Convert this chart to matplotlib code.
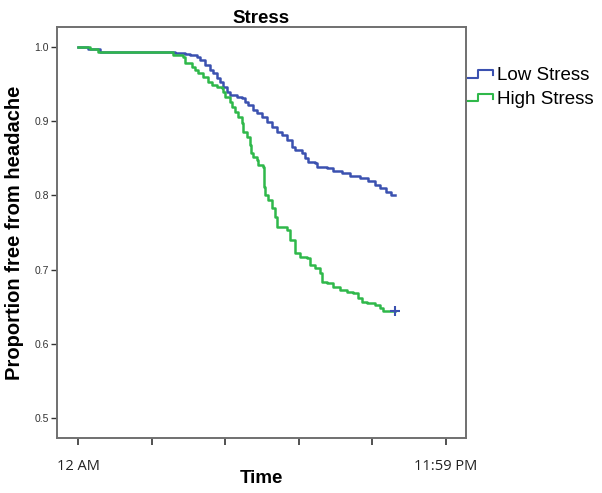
import matplotlib
matplotlib.use("Agg")
import matplotlib.pyplot as plt
from matplotlib.lines import Line2D

# time in minutes after midnight, proportion free from headache
low_t = [0, 39, 86, 380, 419, 438, 466, 477, 497, 517, 528, 544, 556, 567,
         583, 595, 622, 642, 653, 665, 685, 700, 720, 740, 759, 779, 798,
         818, 837, 849, 877, 888, 900, 927, 935, 974, 998, 1033, 1064,
         1103, 1135, 1162, 1182, 1205, 1225, 1240]
low_s = [1.000, 0.997, 0.993, 0.992, 0.991, 0.989, 0.987, 0.982, 0.976,
         0.969, 0.965, 0.958, 0.953, 0.946, 0.939, 0.935, 0.933, 0.931,
         0.926, 0.922, 0.915, 0.911, 0.906, 0.899, 0.892, 0.885, 0.881,
         0.875, 0.865, 0.861, 0.857, 0.850, 0.845, 0.844, 0.838, 0.837,
         0.833, 0.830, 0.826, 0.823, 0.819, 0.814, 0.810, 0.805, 0.800,
         0.800]

high_t = [0, 47, 78, 372, 411, 419, 446, 458, 470, 489, 509, 524, 544, 563,
          567, 575, 595, 603, 614, 626, 642, 646, 661, 673, 677, 685, 700,
          704, 724, 728, 732, 743, 759, 771, 779, 818, 830, 849, 869, 896,
          908, 927, 947, 955, 974, 998, 1025, 1053, 1076, 1096, 1111, 1131,
          1162, 1182, 1193, 1240]
high_s = [1.000, 0.997, 0.993, 0.989, 0.987, 0.978, 0.973, 0.969, 0.965,
          0.960, 0.953, 0.949, 0.946, 0.945, 0.939, 0.933, 0.926, 0.919,
          0.912, 0.906, 0.898, 0.885, 0.879, 0.868, 0.857, 0.852, 0.848,
          0.841, 0.838, 0.811, 0.801, 0.794, 0.783, 0.771, 0.757, 0.753,
          0.740, 0.722, 0.717, 0.715, 0.706, 0.702, 0.695, 0.683, 0.682,
          0.677, 0.672, 0.670, 0.668, 0.662, 0.656, 0.655, 0.652, 0.648,
          0.644, 0.644]

x_ticks = [0, 288, 576, 864, 1152, 1439]
x_ticklabels = ["12 AM", "", "", "", "", "11:59 PM"]
y_ticks = [0.5, 0.6, 0.7, 0.8, 0.9, 1.0]

BLUE = "#3b51b0"
GREEN = "#2fb84a"

plt.rcParams["font.family"] = ["Liberation Sans", "DejaVu Sans"]

fig = plt.figure(figsize=(6.02, 4.93), dpi=100)
ax = fig.add_axes([0.0947, 0.1116, 0.6794, 0.8337])

ax.step(low_t, low_s, where="post", color=BLUE, lw=1.8)
ax.step(high_t, high_s, where="post", color=GREEN, lw=1.8)
ax.plot([high_t[-1]], [high_s[-1]], marker="+", color=BLUE,
        markersize=7, mew=1.5, ls="none")

ax.set_xlim(-82, 1518)
ax.set_ylim(0.473, 1.027)
ax.set_xticks(x_ticks)
ax.set_xticklabels(x_ticklabels, fontsize=10.5, color="#222222",
                   family=["Open Sans", "DejaVu Sans"])
ax.set_yticks(y_ticks)
ax.set_yticklabels([f"{v:.1f}" for v in y_ticks], fontsize=7.5, color="#333333")
ax.tick_params(axis="x", length=5, width=1.2, color="#333333", pad=10)
ax.tick_params(axis="y", length=4, width=1.0, color="#333333", pad=2)
for s in ax.spines.values():
    s.set_color("#707070")
    s.set_linewidth(1.4)

ax.set_title("Stress", fontsize=13.5, fontweight="bold", pad=3)
ax.set_xlabel("Time", fontsize=13.5, fontweight="bold", labelpad=-3)
ax.set_ylabel("Proportion free from headache", fontsize=14.5,
              fontweight="bold", labelpad=7)

# legend with step-shaped keys, drawn in figure pixels
W, H = 602.0, 493.0
for label, col, ypx in [("Low Stress", BLUE, 75), ("High Stress", GREEN, 99)]:
    xs = [468, 478, 478, 493, 493]
    ys = [ypx + 2.5, ypx + 2.5, ypx - 5, ypx - 5, ypx - 0.5]
    fig.add_artist(Line2D([x / W for x in xs], [1 - y / H for y in ys],
                          color=col, lw=1.5, transform=fig.transFigure))
    fig.text(497 / W, 1 - ypx / H, label, fontsize=13.5, va="center",
             ha="left")

fig.savefig("out.png", dpi=100)
